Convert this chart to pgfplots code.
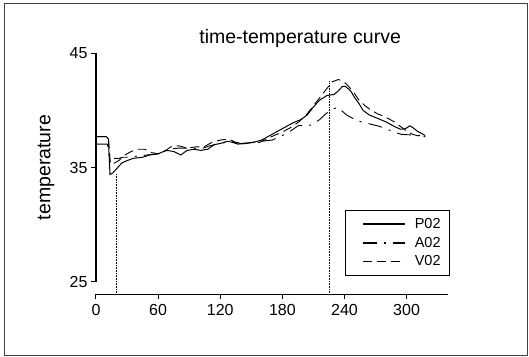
\documentclass[border=0pt]{standalone}
\usepackage{pgfplots}
\pgfplotsset{compat=1.18}
\usepackage{fontspec}
\setmainfont{Liberation Sans}
\begin{document}
\begin{tikzpicture}
\begin{axis}[
 scale only axis, width=352bp, height=228.4bp,
 xmin=0, xmax=340, ymin=25, ymax=45,
 axis lines=left, axis line style={-, line width=1.1bp},
 axis x line shift=12.6bp,
 xtick={0,60,...,300}, ytick={25,35,45},
 tick align=outside, major tick length=5bp, tick style={line width=1bp, black},
 ticklabel style={font=\fontsize{16bp}{18bp}\selectfont},
 xticklabel style={yshift=-2bp},
 /pgf/number format/assume math mode=true,
 clip=false,
 title={time-temperature curve},
 title style={at={(axis description cs:0.58,1)}, anchor=base, yshift=4bp, font=\fontsize{19.5bp}{22bp}\selectfont},
 ylabel={temperature},
 every axis y label/.style={at={(axis description cs:0,0.5)}, xshift=-50bp, rotate=90, anchor=center, font=\fontsize{19.5bp}{22bp}\selectfont},
 legend style={at={(axis description cs:1,0.314)}, anchor=north east, xshift=2bp, draw=black, line width=0.8bp, font=\fontsize{14.5bp}{16bp}\selectfont, row sep=3bp, inner xsep=7bp, inner ysep=6bp},
 legend cell align=left,
 legend image code/.code={\path[draw=none] (-10bp,0bp) -- (50bp,0bp); \draw[#1, line width=1.5bp] (0bp,0bp) -- (42bp,0bp);},
]
\addplot[black, line width=1bp] coordinates {
(0,25) (0,37.7) (10,37.7) (12,37.5) (13.5,34.4) (16,34.5) (20,34.9) (25,35.4) (30,35.6) (36,35.8) (45,35.9) (52,36.1) (60,36.2) (68,36.5) (75,36.4) (82,36.1) (88,36.5) (95,36.6) (101,36.5) (108,36.6) (114,37.0) (120,37.1) (127,37.3) (132,37.2) (137,37.05) (145,37.1) (152,37.2) (160,37.4) (166,37.7) (174,38.1) (182,38.5) (190,38.9) (198,39.2) (204,39.6) (210,40.3) (216,40.9) (223,41.3) (230,41.4) (234,41.7) (238,42.1) (241,42.1) (246,41.7) (250,41.1) (254,40.6) (258,40.0) (264,39.6) (272,39.3) (280,39.0) (288,38.6) (294,38.35) (299,38.4) (303,38.65) (306,38.5) (310,38.2) (316,37.9) (318,37.8)
};
\addlegendentry{P02}
\addplot[black, line width=0.9bp, dash pattern=on 14bp off 7bp on 2.2bp off 7bp] coordinates {
(0,37.05) (11,37.05) (13,35.8) (22,35.8) (26,35.9) (30,35.9) (40,36.0) (50,36.1) (60,36.2) (70,36.6) (80,36.7) (90,36.7) (100,36.6) (110,36.9) (120,37.1) (130,37.3) (140,37.1) (150,37.2) (160,37.3) (170,37.4) (180,37.8) (188,38.2) (196,38.7) (203,38.6) (210,38.8) (216,39.2) (222,39.7) (228,40.1) (233,40.25) (237,40.0) (242,39.6) (248,39.3) (256,39.0) (265,38.8) (272,38.65) (280,38.4) (288,38.1) (295,37.9) (305,37.85) (318,37.75)
};
\addlegendentry{A02}
\addplot[black, line width=0.9bp, dash pattern=on 9bp off 5bp] coordinates {
(0,37.7) (10,37.7) (12,37.5) (14,35.3) (18,35.4) (22,35.6) (28,36.1) (34,36.4) (40,36.6) (47,36.6) (54,36.3) (60,36.2) (66,36.4) (72,36.8) (80,36.9) (88,36.7) (96,36.8) (104,36.8) (112,37.2) (120,37.4) (128,37.5) (135,37.2) (142,37.1) (150,37.2) (158,37.2) (165,37.5) (172,37.8) (180,38.1) (188,38.5) (196,39.0) (204,39.7) (210,40.4) (216,41.1) (222,41.8) (228,42.5) (234,42.7) (238,42.6) (242,42.3) (248,41.7) (254,40.9) (260,40.4) (266,40.0) (272,39.7) (280,39.4) (288,39.0) (294,38.6) (300,38.2) (306,37.9) (312,37.75) (318,37.7)
};
\addlegendentry{V02}
\draw[densely dotted, line width=0.6bp] ([yshift=-12.6bp]axis cs:19.5,25) -- (axis cs:19.5,34.5);
\draw[densely dotted, line width=0.6bp] ([yshift=-12.6bp]axis cs:225,25) -- (axis cs:225,42.6);
\draw[line width=1bp, black!75] ([xshift=-91bp,yshift=-73.3bp]axis description cs:0,0) rectangle ([xshift=431bp,yshift=277.7bp]axis description cs:0,0);
\path ([xshift=-96bp,yshift=-75.3bp]axis description cs:0,0) rectangle ([xshift=433bp,yshift=281.7bp]axis description cs:0,0);
\end{axis}
\end{tikzpicture}
\end{document}
